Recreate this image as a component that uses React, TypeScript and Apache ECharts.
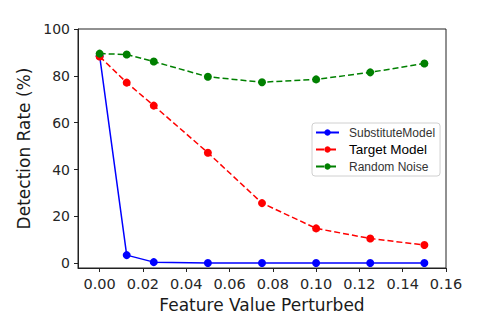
import React, { useEffect, useRef } from "react";
import * as echarts from "echarts";

const xValues = [0, 0.0125, 0.025, 0.05, 0.075, 0.1, 0.125, 0.15];
const substituteModel = [88.5, 3.5, 0.5, 0.1, 0.1, 0.1, 0.1, 0.1];
const targetModel = [88.3, 77.1, 67.3, 47.2, 25.7, 14.9, 10.6, 7.8];
const randomNoise = [89.5, 89.1, 86.1, 79.6, 77.3, 78.5, 81.5, 85.3];
const xTicks = [0, 0.02, 0.04, 0.06, 0.08, 0.1, 0.12, 0.14, 0.16];
const yTicks = [0, 20, 40, 60, 80, 100];

const FONT = "DejaVu Sans";

export default function App() {
  const ref = useRef<HTMLDivElement>(null);
  useEffect(() => {
    if (!ref.current) return;
    const chart = echarts.init(ref.current, null, { renderer: "svg" });
    const mk = (name: string, data: number[], color: string, type: string) => ({
      name,
      type: "line",
      data: xValues.map((x, i) => [x, data[i]]),
      symbol: "circle",
      symbolSize: 8,
      itemStyle: { color },
      lineStyle: { color, width: 1.5, type },
      emphasis: { disabled: true },
    });
    chart.setOption({
      animation: false,
      backgroundColor: "#ffffff",
      grid: {
        left: 78,
        right: 34,
        top: 29,
        bottom: 57,
        show: true,
        borderColor: "#222",
        borderWidth: 1,
        backgroundColor: "transparent",
      },
      xAxis: {
        type: "value",
        min: -0.01,
        max: 0.16,
        name: "Feature Value Perturbed",
        nameLocation: "middle",
        nameGap: 28,
        nameTextStyle: { fontFamily: FONT, fontSize: 17, color: "#1a1a1a", verticalAlign: "top" },
        axisLine: { show: true, onZero: false, lineStyle: { color: "#222" } },
        axisTick: { show: true, length: 4, inside: false, customValues: xTicks, lineStyle: { color: "#222" } },
        axisLabel: {
          customValues: xTicks,
          formatter: (v: number) => v.toFixed(2),
          fontFamily: FONT,
          fontSize: 14.5,
          color: "#262626",
          margin: 8,
        },
        splitLine: { show: false },
      },
      yAxis: {
        type: "value",
        min: -2,
        max: 100,
        name: "Detection Rate (%)",
        nameLocation: "middle",
        nameGap: 44,
        nameTextStyle: { fontFamily: FONT, fontSize: 17, color: "#1a1a1a" },
        axisLine: { show: true, onZero: false, lineStyle: { color: "#222" } },
        axisTick: { show: true, length: 4, customValues: yTicks, lineStyle: { color: "#222" } },
        axisLabel: {
          customValues: yTicks,
          fontFamily: FONT,
          fontSize: 14,
          color: "#262626",
          margin: 8,
        },
        splitLine: { show: false },
      },
      legend: {
        left: 312,
        top: 123,
        orient: "vertical",
        itemWidth: 23,
        itemHeight: 8,
        itemGap: 3.5,
        padding: [3, 5, 3, 3],
        borderColor: "#d0d0d0",
        borderWidth: 1,
        borderRadius: 3,
        backgroundColor: "#ffffff",
        data: ["SubstituteModel", "Target Model", "Random Noise"],
        formatter: (name: string) => (name === "Target Model" ? `{t|${name}}` : `{s|${name}}`),
        textStyle: {
          lineHeight: 13,
          fontWeight: "normal",
          rich: {
            s: { fontFamily: "Liberation Sans", fontSize: 12, fontWeight: "normal", color: "#333", lineHeight: 13, padding: [0, 0, 0, 5] },
            t: { fontFamily: "Liberation Sans", fontSize: 13.5, fontWeight: "normal", color: "#000", lineHeight: 13, padding: [0, 0, 0, 5] },
          },
        },
      },
      series: [
        mk("SubstituteModel", substituteModel, "#0000ff", "solid"),
        mk("Target Model", targetModel, "#ff0000", "dashed"),
        mk("Random Noise", randomNoise, "#008000", "dashed"),
      ],
    });
    return () => chart.dispose();
  }, []);
  return <div ref={ref} style={{ width: 480, height: 325, position: "absolute", left: 0, top: 0 }} />;
}
